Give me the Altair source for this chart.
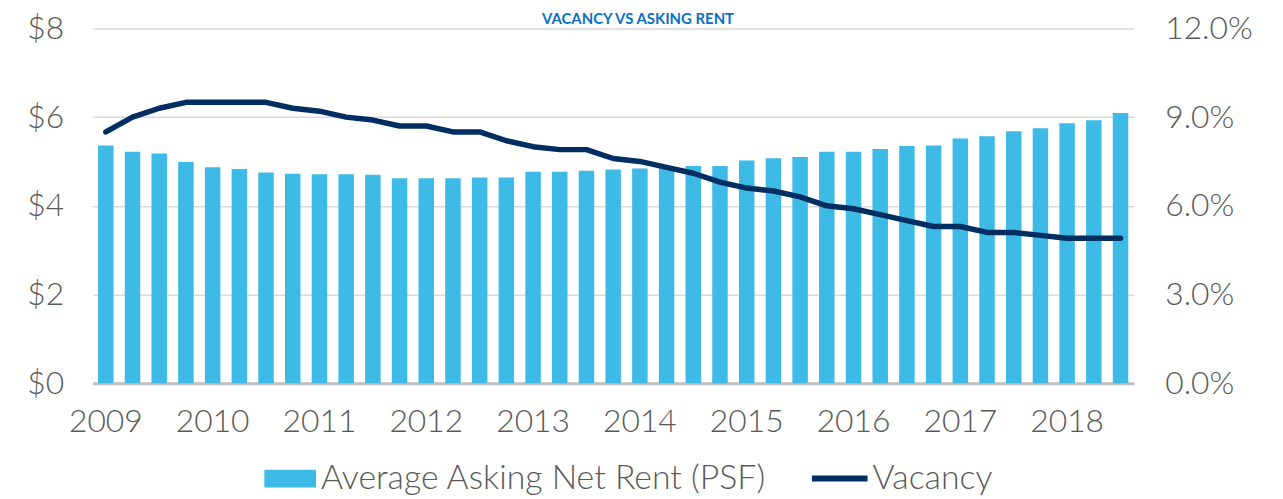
import altair as alt
import pandas as pd

years = list(range(2009, 2019))
quarters = [f"{y} Q{q}" for y in years for q in range(1, 5)][:39]

rent = [5.36, 5.22, 5.18, 4.99, 4.87, 4.83, 4.75, 4.72, 4.71, 4.71, 4.70, 4.62, 4.62,
        4.62, 4.64, 4.64, 4.77, 4.77, 4.79, 4.82, 4.84, 4.87, 4.90, 4.90, 5.02, 5.07,
        5.10, 5.22, 5.22, 5.28, 5.35, 5.36, 5.52, 5.57, 5.68, 5.75, 5.86, 5.93, 6.09]

vacancy_pct = [8.5, 9.0, 9.3, 9.5, 9.5, 9.5, 9.5, 9.3, 9.2, 9.0, 8.9, 8.7, 8.7,
               8.5, 8.5, 8.2, 8.0, 7.9, 7.9, 7.6, 7.5, 7.3, 7.1, 6.8, 6.6, 6.5,
               6.3, 6.0, 5.9, 5.7, 5.5, 5.3, 5.3, 5.1, 5.1, 5.0, 4.9, 4.9, 4.9]

rent_axis_values = [0, 2, 4, 6, 8]
vac_axis_values = [0, 0.03, 0.06, 0.09, 0.12]
year_labels = [q for q in quarters if q.endswith("Q1")]

bar_name = "Average Asking Net Rent (PSF)"
line_name = "Vacancy"
title_text = ["VACANCY VS ASKING RENT"]

df = pd.DataFrame({
    "quarter": quarters,
    "rent": rent,
    "vacancy": [v / 100 for v in vacancy_pct],
    "bar_series": bar_name,
    "line_series": line_name,
})
title_df = pd.DataFrame({"title": title_text})

FONT = "Lato"
GRAY = "#595959"
BAR = "#3dbbe6"
NAVY = "#002d62"
AXIS_FS = 32
LEG_FS = 34

x = alt.X(
    "quarter:N",
    sort=None,
    scale=alt.Scale(paddingInner=0.42, paddingOuter=0.21),
    axis=alt.Axis(
        title=None,
        values=year_labels,
        labelExpr="substring(datum.value, 0, 4)",
        labelAngle=0,
        ticks=False,
        domainColor="#bfbfbf",
        domainWidth=3,
        labelPadding=24,
        labelFont=FONT,
        labelFontSize=AXIS_FS,
        labelFontWeight=300,
        labelColor=GRAY,
    ),
)

bars = alt.Chart(df).mark_bar().encode(
    x=x,
    y=alt.Y(
        "rent:Q",
        scale=alt.Scale(domain=[0, 8], nice=False),
        axis=alt.Axis(
            title=None,
            values=rent_axis_values,
            labelExpr="'$' + datum.value",
            ticks=False,
            domain=False,
            grid=True,
            gridColor="#d9d9d9",
            gridWidth=1.5,
            labelPadding=29,
            labelFont=FONT,
            labelFontSize=AXIS_FS,
            labelFontWeight=300,
            labelColor=GRAY,
        ),
    ),
    color=alt.Color(
        "bar_series:N",
        scale=alt.Scale(range=[BAR]),
        legend=alt.Legend(
            title=None,
            orient="none",
            legendX=173,
            legendY=427,
            symbolType="M-1,-0.346H1V0.346H-1Z",
            symbolSize=2704,
            symbolStrokeWidth=0,
            labelOffset=5,
            labelLimit=0,
            labelFont=FONT,
            labelFontSize=LEG_FS,
            labelFontWeight=300,
            labelColor=GRAY,
            padding=0,
        ),
    ),
)

line = alt.Chart(df).mark_line(strokeWidth=5.5, strokeCap="round", strokeJoin="round").encode(
    x=x,
    y=alt.Y(
        "vacancy:Q",
        scale=alt.Scale(domain=[0, 0.12], nice=False),
        axis=alt.Axis(
            title=None,
            orient="right",
            values=vac_axis_values,
            format=".1%",
            ticks=False,
            domain=False,
            grid=False,
            labelPadding=31,
            labelFont=FONT,
            labelFontSize=AXIS_FS,
            labelFontWeight=300,
            labelColor=GRAY,
        ),
    ),
    stroke=alt.Stroke(
        "line_series:N",
        scale=alt.Scale(range=[NAVY]),
        legend=alt.Legend(
            title=None,
            orient="none",
            legendX=721,
            legendY=422,
            symbolType="stroke",
            symbolSize=3136,
            symbolStrokeWidth=6,
            labelOffset=2,
            labelLimit=0,
            labelFont=FONT,
            labelFontSize=LEG_FS,
            labelFontWeight=300,
            labelColor=GRAY,
            padding=0,
        ),
    ),
)

title_mark = alt.Chart(title_df).mark_text(
    font=FONT,
    fontSize=15,
    fontWeight="bold",
    color="#0a70c3",
    align="center",
    baseline="alphabetic",
).encode(
    text="title:N",
    x=alt.value(549),
    y=alt.value(-4),
)

chart = (
    alt.layer(bars, line, title_mark)
    .resolve_scale(y="independent")
    .properties(
        width=1048,
        height=357,
        autosize=alt.AutoSizeParams(type="none"),
        padding={"left": 85, "top": 19, "right": 142, "bottom": 115},
    )
    .configure_view(stroke=None)
)

chart.save("out.html", embed_options={"renderer": "svg", "actions": False})
